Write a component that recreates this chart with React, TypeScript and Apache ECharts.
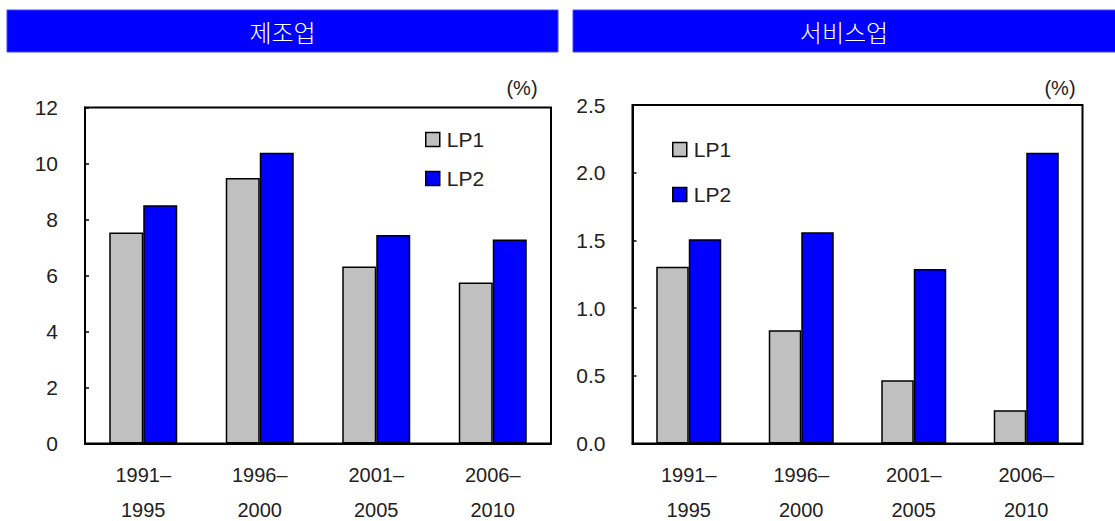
import React, { useEffect, useRef } from "react";
import * as echarts from "echarts";

const categories = ["1991–\n1995", "1996–\n2000", "2001–\n2005", "2006–\n2010"];
const mfgLP1 = [7.54, 9.48, 6.32, 5.75];
const mfgLP2 = [8.51, 10.38, 7.45, 7.29];
const svcLP1 = [1.305, 0.837, 0.468, 0.246];
const svcLP2 = [1.508, 1.56, 1.288, 2.148];
const titles = ["제조업", "서비스업"];
const seriesNames = ["LP1", "LP2"];
const unitLabel = "(%)";

const NUM_FONT = "'Liberation Sans', Arial, sans-serif";
const KR_FONT = "'Noto Sans CJK KR', sans-serif";

export default function App() {
  const ref = useRef<HTMLDivElement>(null);
  useEffect(() => {
    if (!ref.current) return;
    const chart = echarts.init(ref.current, null, { renderer: "svg" });
    const axisLabelStyle = { color: "#222", fontSize: 21, fontFamily: NUM_FONT };
    const xAxisBase = (gridIndex: number) => ({
      type: "category" as const,
      gridIndex,
      data: categories,
      axisLine: { show: true, lineStyle: { color: "#000", width: 2 } },
      axisTick: { show: false },
      axisLabel: { ...axisLabelStyle, fontSize: 20, margin: 14, lineHeight: 35 },
    });
    const yAxisBase = (gridIndex: number, max: number, interval: number, fmt: (v: number) => string) => ({
      type: "value" as const,
      gridIndex,
      min: 0,
      max,
      interval,
      axisLine: { show: true, lineStyle: { color: "#000", width: 2 } },
      axisTick: { show: true, inside: true, length: 4, lineStyle: { color: "#000", width: 1.5 } },
      splitLine: { show: false },
      axisLabel: { ...axisLabelStyle, margin: 27, formatter: fmt },
    });
    const barStyle = (color: string) => ({ color, borderColor: "#000", borderWidth: 1.5 });
    const mkSeries = (name: string, data: number[], idx: number, color: string, bw: number) => ({
      name,
      type: "bar" as const,
      xAxisIndex: idx,
      yAxisIndex: idx,
      data,
      barWidth: bw,
      barGap: "0%",
      itemStyle: barStyle(color),
    });
    const legendBase = (left: number, top: number, gap: number) => ({
      left,
      top,
      orient: "vertical" as const,
      padding: 0,
      itemWidth: 14,
      itemHeight: 14,
      itemGap: gap,
      icon: "rect",
      data: seriesNames,
      itemStyle: { borderColor: "#000", borderWidth: 1.5 },
      textStyle: { fontSize: 21, color: "#222", fontFamily: NUM_FONT, padding: [0, 0, 0, 2] },
      selectedMode: false,
    });
    const gridBase = {
      show: true,
      borderColor: "#000",
      borderWidth: 2,
      backgroundColor: "transparent",
      containLabel: false,
      outerBoundsMode: "none",
    };
    chart.setOption({
      animation: false,
      backgroundColor: "#fff",
      grid: [
        { ...gridBase, left: 85, right: 564, top: 107.5, bottom: 77.5 },
        { ...gridBase, left: 632.5, right: 32.5, top: 105, bottom: 77.5 },
      ],
      xAxis: [xAxisBase(0), xAxisBase(1)],
      yAxis: [
        yAxisBase(0, 12, 2, (v: number) => String(v)),
        yAxisBase(1, 2.5, 0.5, (v: number) => v.toFixed(1)),
      ],
      legend: [legendBase(425, 129, 18), legendBase(672, 139, 24)],
      series: [
        mkSeries(seriesNames[0], mfgLP1, 0, "#c0c0c0", 34),
        mkSeries(seriesNames[1], mfgLP2, 0, "#0000ff", 34),
        mkSeries(seriesNames[0], svcLP1, 1, "#c0c0c0", 32.5),
        mkSeries(seriesNames[1], svcLP2, 1, "#0000ff", 32.5),
      ],
      graphic: [
        { type: "rect", shape: { x: 7, y: 10, width: 551, height: 42 }, style: { fill: "#0000ff", stroke: "#4444ff", lineWidth: 1 } },
        { type: "rect", shape: { x: 573, y: 10, width: 545, height: 42 }, style: { fill: "#0000ff", stroke: "#4444ff", lineWidth: 1 } },
        { type: "text", x: 282.5, y: 31, style: { text: titles[0], fill: "#fff", fontSize: 24, fontWeight: 300, fontFamily: KR_FONT, align: "center", verticalAlign: "middle" } },
        { type: "text", x: 844, y: 31, style: { text: titles[1], fill: "#fff", fontSize: 24, fontWeight: 300, fontFamily: KR_FONT, align: "center", verticalAlign: "middle" } },
        { type: "text", x: 522, y: 88, style: { text: unitLabel, fill: "#222", fontSize: 20, fontFamily: NUM_FONT, align: "center", verticalAlign: "middle" } },
        { type: "text", x: 1060, y: 88, style: { text: unitLabel, fill: "#222", fontSize: 20, fontFamily: NUM_FONT, align: "center", verticalAlign: "middle" } },
      ],
    });
    return () => chart.dispose();
  }, []);
  return (
    <div
      ref={ref}
      style={{ position: "fixed", left: 0, top: 0, width: 1115, height: 521 }}
    />
  );
}
